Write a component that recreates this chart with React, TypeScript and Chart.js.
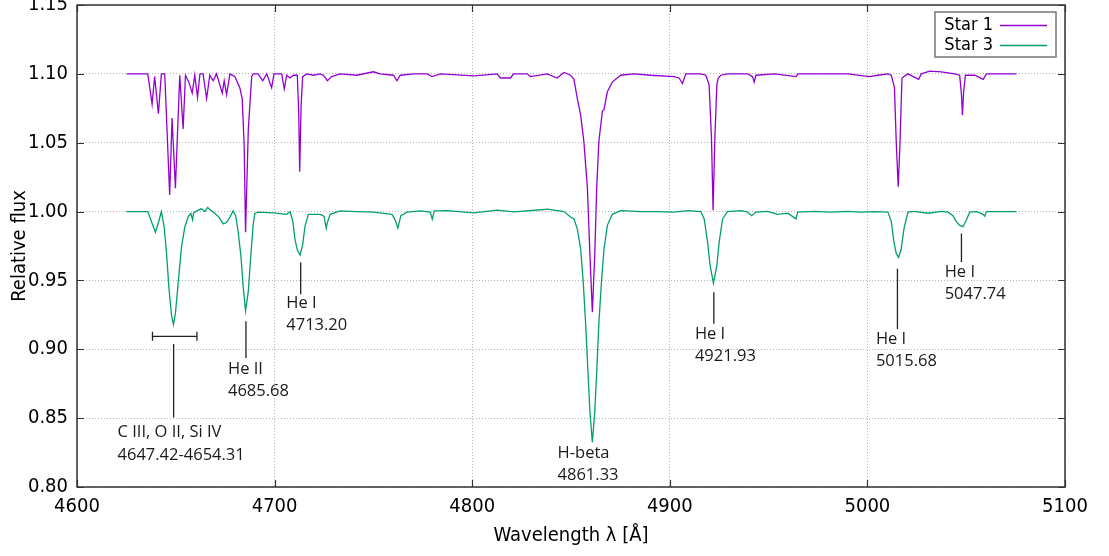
import React, { useEffect, useRef } from "react";
import { Chart, registerables } from "chart.js";

Chart.register(...registerables);

// ---------- data ----------
const seriesNames = ["Star 1", "Star 3"];
const xTickValues = [4600, 4700, 4800, 4900, 5000, 5100];
const yTickValues = [0.8, 0.85, 0.9, 0.95, 1.0, 1.05, 1.1, 1.15];

const star1Wavelength = [
  4625.1, 4635.8, 4638.0, 4639.3, 4641.2, 4642.7, 4644.4, 4646.9, 4648.1, 4649.8,
  4652.0, 4653.7, 4654.9, 4656.6, 4658.3, 4659.6, 4661.0, 4662.2, 4663.8, 4665.6,
  4667.2, 4668.9, 4670.6, 4673.5, 4674.5, 4675.7, 4677.4, 4679.9, 4682.4, 4683.6,
  4684.6, 4685.3, 4686.7, 4688.4, 4689.2, 4691.7, 4694.0, 4696.0, 4698.5, 4699.7,
  4703.6, 4704.9, 4706.1, 4707.8, 4709.5, 4711.5, 4712.2, 4712.7, 4713.4, 4714.2,
  4716.3, 4719.6, 4723.0, 4724.7, 4726.7, 4728.9, 4733.2, 4741.6, 4750.0, 4753.4,
  4760.2, 4761.9, 4763.6, 4770.3, 4777.1, 4779.7, 4783.9, 4800.8, 4812.6, 4814.3,
  4819.4, 4820.9, 4827.8, 4829.5, 4838.0, 4843.0, 4846.4, 4849.8, 4851.5, 4853.2,
  4854.9, 4856.5, 4858.3, 4859.6, 4860.8, 4862.0, 4863.0, 4864.1, 4865.9, 4866.7,
  4868.4, 4870.9, 4875.1, 4881.9, 4890.4, 4902.2, 4904.7, 4906.4, 4908.1, 4915.7,
  4918.2, 4919.9, 4921.1, 4921.9, 4922.8, 4923.8, 4924.5, 4925.8, 4929.2, 4939.4,
  4941.9, 4942.7, 4943.6, 4952.9, 4963.9, 4964.7, 4973.2, 4990.1, 5001.1, 5005.3,
  5010.4, 5012.1, 5013.7, 5014.6, 5015.6, 5016.5, 5017.5, 5020.5, 5025.9, 5027.3,
  5031.5, 5037.4, 5044.2, 5046.7, 5047.6, 5048.1, 5048.7, 5049.6, 5054.3, 5058.6,
  5060.2, 5062.8, 5075.4,
];
const star1Flux = [
  1.1, 1.1, 1.078, 1.098, 1.071, 1.1, 1.1, 1.012, 1.068, 1.017,
  1.099, 1.06, 1.099, 1.094, 1.086, 1.099, 1.083, 1.1, 1.1, 1.082,
  1.099, 1.095, 1.1, 1.086, 1.095, 1.085, 1.1, 1.098, 1.09, 1.082,
  1.048, 0.985, 1.06, 1.098, 1.1, 1.1, 1.095, 1.1, 1.09, 1.1,
  1.1, 1.089, 1.099, 1.097, 1.099, 1.099, 1.072, 1.029, 1.077, 1.098,
  1.1, 1.099, 1.1, 1.099, 1.095, 1.098, 1.1, 1.099, 1.1015, 1.1,
  1.099, 1.095, 1.099, 1.1, 1.1, 1.098, 1.1, 1.0985, 1.1, 1.097,
  1.097, 1.1, 1.1, 1.098, 1.1, 1.097, 1.101, 1.099, 1.096, 1.082,
  1.07, 1.051, 1.017, 0.968, 0.927, 0.968, 1.017, 1.051, 1.073, 1.074,
  1.087, 1.094, 1.099, 1.1, 1.099, 1.098, 1.097, 1.093, 1.1, 1.1,
  1.099, 1.092, 1.053, 1.001, 1.053, 1.092, 1.097, 1.099, 1.1, 1.1,
  1.098, 1.094, 1.099, 1.1, 1.098, 1.1, 1.1, 1.1, 1.098, 1.099,
  1.1, 1.099, 1.09, 1.05, 1.018, 1.05, 1.097, 1.1, 1.096, 1.1,
  1.102, 1.1015, 1.1, 1.099, 1.085, 1.07, 1.087, 1.099, 1.099, 1.096,
  1.1, 1.1, 1.1,
];

const star3Wavelength = [
  4625.0, 4635.9, 4637.3, 4639.7, 4641.4, 4642.7, 4644.1, 4645.3, 4646.6, 4647.8,
  4648.8, 4649.8, 4651.2, 4652.9, 4654.6, 4656.2, 4657.6, 4658.5, 4659.0, 4661.3,
  4663.0, 4664.7, 4666.1, 4668.1, 4669.8, 4671.8, 4674.0, 4675.7, 4677.4, 4679.0,
  4680.3, 4681.6, 4683.0, 4684.1, 4685.3, 4686.7, 4688.0, 4689.2, 4690.0, 4691.7,
  4699.3, 4706.1, 4707.8, 4709.2, 4710.3, 4711.5, 4712.9, 4714.2, 4715.4, 4717.1,
  4723.0, 4725.0, 4726.1, 4726.7, 4728.1, 4733.2, 4741.6, 4750.0, 4759.4, 4761.0,
  4762.4, 4763.9, 4767.0, 4773.7, 4778.8, 4779.8, 4780.8, 4783.9, 4787.3, 4800.8,
  4812.6, 4821.0, 4838.0, 4846.4, 4849.8, 4851.5, 4853.2, 4854.9, 4856.2, 4857.4,
  4858.6, 4859.6, 4860.8, 4862.0, 4863.0, 4864.1, 4865.4, 4866.7, 4868.4, 4870.9,
  4875.1, 4885.3, 4893.8, 4902.2, 4909.0, 4915.7, 4917.4, 4919.1, 4920.4, 4922.1,
  4923.8, 4925.0, 4926.7, 4929.2, 4936.0, 4939.4, 4941.4, 4943.6, 4949.5, 4954.6,
  4959.7, 4963.9, 4964.7, 4973.2, 4981.6, 4990.1, 4996.8, 5003.6, 5010.4, 5012.1,
  5013.4, 5014.6, 5015.8, 5017.1, 5018.5, 5020.5, 5023.9, 5030.6, 5037.4, 5040.8,
  5043.3, 5045.0, 5046.7, 5048.4, 5050.1, 5051.8, 5055.2, 5058.6, 5059.4, 5060.2,
  5075.4,
];
const star3Flux = [
  1.0, 1.0, 0.994, 0.985, 0.993, 1.0, 0.989, 0.97, 0.943, 0.925,
  0.918, 0.926, 0.948, 0.9745, 0.989, 0.996, 0.9986, 0.994, 0.999, 1.001,
  1.002, 1.0, 1.003, 1.0005, 0.9986, 0.996, 0.991, 0.992, 0.996, 1.0005,
  0.997, 0.985, 0.967, 0.9455, 0.928, 0.942, 0.969, 0.991, 0.9986, 0.9996,
  0.999, 0.998, 1.0, 0.993, 0.98, 0.972, 0.9685, 0.976, 0.9895, 0.998,
  0.998, 0.9967, 0.988, 0.992, 0.998, 1.0005, 1.0, 0.9996, 0.998, 0.994,
  0.988, 0.997, 0.9996, 1.0005, 0.9996, 0.9945, 1.0005, 1.0005, 1.0007, 0.999,
  1.001, 0.9998, 1.0017, 1.0, 0.996, 0.9947, 0.9874, 0.9728, 0.9485, 0.919,
  0.883, 0.854, 0.8325, 0.854, 0.883, 0.919, 0.9485, 0.9728, 0.99, 0.998,
  1.0007, 1.0, 1.0, 0.9996, 1.0007, 1.0, 0.9947, 0.978, 0.9607, 0.948,
  0.9607, 0.978, 0.9947, 1.0, 1.0007, 0.9996, 0.997, 0.9996, 1.0002, 0.998,
  0.9988, 0.9947, 0.9996, 1.0002, 0.9996, 1.0002, 0.9996, 1.0, 0.9996, 0.9927,
  0.978, 0.9696, 0.9667, 0.9728, 0.9874, 0.9996, 1.0002, 0.9988, 1.0002, 0.9996,
  0.997, 0.9927, 0.99, 0.989, 0.994, 0.9996, 1.0, 0.998, 0.9966, 1.0,
  1.0,
];

// line identifications (label text, label anchor in data coords, marker line)
const lineLabels = [
  { text: ["He II", "4685.68"], x: 4676.4, y: 0.8857, mark: [4685.5, 0.9204, 0.8937] },
  { text: ["He I", "4713.20"], x: 4705.9, y: 0.9335, mark: [4713.2, 0.9631, 0.94] },
  { text: ["H-beta", "4861.33"], x: 4843.2, y: 0.8247, mark: null },
  { text: ["He I", "4921.93"], x: 4912.7, y: 0.9112, mark: [4922.3, 0.9415, 0.9185] },
  { text: ["He I", "5015.68"], x: 5004.3, y: 0.9075, mark: [5015.2, 0.9585, 0.9148] },
  { text: ["He I", "5047.74"], x: 5039.1, y: 0.956, mark: [5047.6, 0.984, 0.9633] },
  { text: ["C III, O II, Si IV", "4647.42-4654.31"], x: 4620.5, y: 0.8395, mark: [4648.9, 0.9039, 0.8504] },
];
const blendRange = { x1: 4638.2, x2: 4660.7, y: 0.9094 };

// ---------- styles ----------
const COLORS = ["#9400d3", "#009e73"];
const AXIS_FONT = "'DejaVu Sans Condensed', 'DejaVu Sans', sans-serif";
const LABEL_FONT = "16.5px 'Open Sans', sans-serif";

const overlayPlugin = {
  id: "overlay",
  afterDraw(chart: any) {
    const { ctx, chartArea: a, scales } = chart;
    const xs = scales.x;
    const ys = scales.y;
    ctx.save();

    // inward (mirrored) tick marks
    ctx.strokeStyle = "#333";
    ctx.lineWidth = 1.2;
    ctx.beginPath();
    xTickValues.forEach((v) => {
      const px = Math.round(xs.getPixelForValue(v)) + 0.5;
      ctx.moveTo(px, a.bottom);
      ctx.lineTo(px, a.bottom - 7);
      ctx.moveTo(px, a.top);
      ctx.lineTo(px, a.top + 7);
    });
    yTickValues.forEach((v) => {
      const py = Math.round(ys.getPixelForValue(v)) + 0.5;
      ctx.moveTo(a.left, py);
      ctx.lineTo(a.left + 7, py);
      ctx.moveTo(a.right, py);
      ctx.lineTo(a.right - 7, py);
    });
    ctx.stroke();

    // frame
    ctx.lineWidth = 1.5;
    ctx.strokeStyle = "#333";
    ctx.strokeRect(a.left, a.top, a.right - a.left, a.bottom - a.top);

    // line identifications
    ctx.strokeStyle = "#222";
    ctx.lineWidth = 1.3;
    ctx.beginPath();
    lineLabels.forEach((l) => {
      if (l.mark) {
        const px = xs.getPixelForValue(l.mark[0]);
        ctx.moveTo(px, ys.getPixelForValue(l.mark[1]));
        ctx.lineTo(px, ys.getPixelForValue(l.mark[2]));
      }
    });
    const bx1 = xs.getPixelForValue(blendRange.x1);
    const bx2 = xs.getPixelForValue(blendRange.x2);
    const by = ys.getPixelForValue(blendRange.y);
    ctx.moveTo(bx1, by);
    ctx.lineTo(bx2, by);
    ctx.moveTo(bx1, by - 4.5);
    ctx.lineTo(bx1, by + 4.5);
    ctx.moveTo(bx2, by - 4.5);
    ctx.lineTo(bx2, by + 4.5);
    ctx.stroke();

    ctx.fillStyle = "#1a1a1a";
    ctx.font = LABEL_FONT;
    ctx.textAlign = "left";
    ctx.textBaseline = "middle";
    lineLabels.forEach((l) => {
      const px = xs.getPixelForValue(l.x);
      const py = ys.getPixelForValue(l.y);
      l.text.forEach((t, i) => ctx.fillText(t, px, py + i * 22.4));
    });

    // legend
    const lx = a.right - 130;
    const ly = a.top + 7;
    ctx.fillStyle = "#fff";
    ctx.fillRect(lx, ly, 121, 45);
    ctx.strokeStyle = "#777";
    ctx.lineWidth = 1.5;
    ctx.strokeRect(lx, ly, 121, 45);
    ctx.font = `18px ${AXIS_FONT}`;
    ctx.textAlign = "right";
    seriesNames.forEach((name, i) => {
      const cy = ly + 13.5 + i * 20;
      ctx.fillStyle = "#000";
      ctx.fillText(name, lx + 58, cy);
      ctx.strokeStyle = COLORS[i];
      ctx.lineWidth = 1.5;
      ctx.beginPath();
      ctx.moveTo(lx + 65, cy);
      ctx.lineTo(lx + 112, cy);
      ctx.stroke();
    });

    ctx.restore();
  },
};

export default function App() {
  const canvasRef = useRef<HTMLCanvasElement | null>(null);

  useEffect(() => {
    document.body.style.margin = "0";
    const canvas = canvasRef.current;
    if (!canvas) return;
    const toPoints = (xs: number[], ys: number[]) => xs.map((x, i) => ({ x, y: ys[i] }));

    const chart = new Chart(canvas, {
      type: "line",
      data: {
        datasets: [
          {
            label: seriesNames[0],
            data: toPoints(star1Wavelength, star1Flux),
            borderColor: COLORS[0],
            borderWidth: 1.3,
            pointRadius: 0,
            tension: 0,
            fill: false,
            order: 1,
          },
          {
            label: seriesNames[1],
            data: toPoints(star3Wavelength, star3Flux),
            borderColor: COLORS[1],
            borderWidth: 1.3,
            pointRadius: 0,
            tension: 0,
            fill: false,
            order: 0,
          },
        ],
      },
      options: {
        animation: false,
        responsive: false,
        events: [],
        layout: { padding: { top: 5, right: 44, bottom: 0, left: 0 } },
        plugins: { legend: { display: false }, tooltip: { enabled: false } },
        scales: {
          x: {
            type: "linear",
            min: 4600,
            max: 5100,
            afterBuildTicks: (s: any) => {
              s.ticks = xTickValues.map((v) => ({ value: v }));
            },
            afterFit: (s: any) => {
              s.height = 69;
              s.paddingLeft = 0;
              s.paddingRight = 0;
            },
            grid: { color: "#b5b5b5", lineWidth: 1, drawTicks: false },
            border: { display: false, dash: [1, 2] },
            ticks: {
              color: "#000",
              padding: 8,
              maxRotation: 0,
              autoSkip: false,
              font: { family: AXIS_FONT, size: 20 },
              callback: (v: any) => String(v),
            },
            title: {
              display: true,
              text: "Wavelength λ [Å]",
              color: "#000",
              font: { family: AXIS_FONT, size: 20 },
              padding: { top: 0, bottom: 8 },
            },
          },
          y: {
            type: "linear",
            min: 0.8,
            max: 1.15,
            afterBuildTicks: (s: any) => {
              s.ticks = yTickValues.map((v) => ({ value: v }));
            },
            afterFit: (s: any) => {
              s.width = 77;
              s.paddingTop = 0;
              s.paddingBottom = 0;
            },
            grid: { color: "#b5b5b5", lineWidth: 1, drawTicks: false },
            border: { display: false, dash: [1, 2] },
            ticks: {
              color: "#000",
              padding: 9,
              autoSkip: false,
              font: { family: AXIS_FONT, size: 20 },
              callback: (v: any) => Number(v).toFixed(2),
            },
            title: {
              display: true,
              text: "Relative flux",
              color: "#000",
              font: { family: AXIS_FONT, size: 20 },
              padding: { top: 8, bottom: 0 },
            },
          },
        },
      },
      plugins: [overlayPlugin],
    });

    return () => chart.destroy();
  }, []);

  return (
    <div style={{ width: 1109, height: 556 }}>
      <canvas ref={canvasRef} width={1109} height={556} style={{ display: "block" }} />
    </div>
  );
}
